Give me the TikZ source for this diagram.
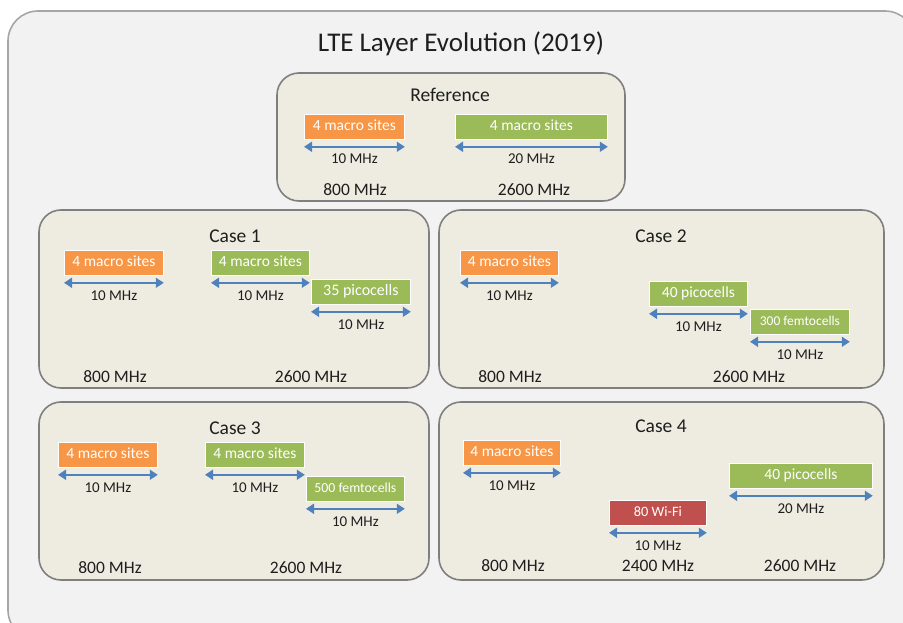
\documentclass[tikz,border=0pt]{standalone}
\usepackage{fontspec}
\setmainfont{Carlito}
\usetikzlibrary{arrows.meta}
\definecolor{outerfill}{HTML}{F2F2F2}
\definecolor{outerline}{HTML}{A6A6A6}
\definecolor{casefill}{HTML}{EEECE1}
\definecolor{caseline}{HTML}{7F7F7F}
\definecolor{macroorange}{HTML}{F79646}
\definecolor{cellgreen}{HTML}{9BBB59}
\definecolor{wifired}{HTML}{C0504D}
\definecolor{bandblue}{HTML}{4F81BD}
\definecolor{inktext}{HTML}{1E1E1E}
\begin{document}
\begin{tikzpicture}[x=1pt,y=-1pt,
  casebox/.style={draw=caseline,line width=1.6pt,fill=casefill,rounded corners=22pt},
  cell/.style={draw=white,line width=0.8pt,text=white,anchor=north west,inner sep=0pt,
    minimum height=25pt,text height=0.75em,text depth=0.1em,font=\fontsize{15.5}{18}\selectfont},
  band/.style={{Triangle[length=8pt,width=10pt]}-{Triangle[length=8pt,width=10pt]},draw=bandblue,line width=1.6pt},
  freq/.style={text=inktext,inner sep=0pt,font=\fontsize{15}{18}\selectfont},
  layer/.style={text=inktext,inner sep=0pt,font=\fontsize{17.5}{20}\selectfont},
  casename/.style={text=inktext,inner sep=0pt,anchor=base,font=\fontsize{19.5}{22}\selectfont}]
\useasboundingbox (0,0) rectangle (903,623);
\clip (0,0) rectangle (903,623);
\draw[draw=outerline,line width=1.6pt,fill=outerfill,rounded corners=30pt] (8,11) rectangle (915,640);
\node[text=inktext,inner sep=0pt,anchor=base,font=\fontsize{27}{30}\selectfont] (title) at (461,52) {LTE Layer Evolution (2019)};
\draw[casebox] (277,73) rectangle (625,201);
\draw[casebox] (39,210) rectangle (429,388);
\draw[casebox] (439,210) rectangle (884,388);
\draw[casebox] (39,402) rectangle (429,580);
\draw[casebox] (439,402) rectangle (884,580);
\node[casename] (refname) at (450,102) {Reference};
\node[casename] (c1name) at (235,242) {Case 1};
\node[casename] (c2name) at (661,242) {Case 2};
\node[casename] (c3name) at (235,434) {Case 3};
\node[casename] (c4name) at (661,432) {Case 4};
\node[cell,fill=macroorange,minimum width=100pt] (refmac) at (304,114) {4 macro sites};
\node[cell,fill=cellgreen,minimum width=152pt] (refmacb) at (455,114) {4 macro sites};
\node[cell,fill=macroorange,minimum width=99pt] (c1mac) at (64,250) {4 macro sites};
\node[cell,fill=cellgreen,minimum width=98pt] (c1macb) at (211,250) {4 macro sites};
\node[cell,fill=cellgreen,minimum width=99pt,font=\fontsize{16}{18}\selectfont] (c1pico) at (311,279) {35 picocells};
\node[cell,fill=macroorange,minimum width=98pt] (c2mac) at (460,250) {4 macro sites};
\node[cell,fill=cellgreen,minimum width=98pt] (c2pico) at (649,281) {40 picocells};
\node[cell,fill=cellgreen,minimum width=99pt,font=\fontsize{13.5}{16}\selectfont] (c2femto) at (750,309) {300 femtocells};
\node[cell,fill=macroorange,minimum width=99pt] (c3mac) at (58,442) {4 macro sites};
\node[cell,fill=cellgreen,minimum width=99pt] (c3macb) at (205,442) {4 macro sites};
\node[cell,fill=cellgreen,minimum width=98pt,font=\fontsize{13.8}{16}\selectfont] (c3femto) at (306,476) {500 femtocells};
\node[cell,fill=macroorange,minimum width=97pt] (c4mac) at (463,440) {4 macro sites};
\node[cell,fill=wifired,minimum width=97pt,font=\fontsize{14.3}{16}\selectfont] (c4wifi) at (609,500) {80 Wi-Fi};
\node[cell,fill=cellgreen,minimum width=143pt] (c4pico) at (729,463) {40 picocells};
\draw[band] ([yshift=-7pt]refmac.south west) -- ([yshift=-7pt]refmac.south east);
\draw[band] ([yshift=-7pt]refmacb.south west) -- ([yshift=-7pt]refmacb.south east);
\draw[band] ([yshift=-7pt]c1mac.south west) -- ([yshift=-7pt]c1mac.south east);
\draw[band] ([yshift=-7pt]c1macb.south west) -- ([yshift=-7pt]c1macb.south east);
\draw[band] ([yshift=-7pt]c1pico.south west) -- ([yshift=-7pt]c1pico.south east);
\draw[band] ([yshift=-7pt]c2mac.south west) -- ([yshift=-7pt]c2mac.south east);
\draw[band] ([yshift=-7pt]c2pico.south west) -- ([yshift=-7pt]c2pico.south east);
\draw[band] ([yshift=-7pt]c2femto.south west) -- ([yshift=-7pt]c2femto.south east);
\draw[band] ([yshift=-7pt]c3mac.south west) -- ([yshift=-7pt]c3mac.south east);
\draw[band] ([yshift=-7pt]c3macb.south west) -- ([yshift=-7pt]c3macb.south east);
\draw[band] ([yshift=-7pt]c3femto.south west) -- ([yshift=-7pt]c3femto.south east);
\draw[band] ([yshift=-7pt]c4mac.south west) -- ([yshift=-7pt]c4mac.south east);
\draw[band] ([yshift=-7pt]c4wifi.south west) -- ([yshift=-7pt]c4wifi.south east);
\draw[band] ([yshift=-7pt]c4pico.south west) -- ([yshift=-7pt]c4pico.south east);
\node[freq] (refmacw) at ([yshift=-19pt]refmac.south) {10 MHz};
\node[freq] (refmacbw) at ([yshift=-19pt]refmacb.south) {20 MHz};
\node[freq] (c1macw) at ([yshift=-19.5pt]c1mac.south) {10 MHz};
\node[freq] (c1macbw) at ([yshift=-19.5pt]c1macb.south) {10 MHz};
\node[freq] (c1picow) at ([yshift=-19.5pt]c1pico.south) {10 MHz};
\node[freq] (c2macw) at ([yshift=-19.5pt]c2mac.south) {10 MHz};
\node[freq] (c2picow) at ([yshift=-19.5pt]c2pico.south) {10 MHz};
\node[freq] (c2femtow) at ([yshift=-19.5pt]c2femto.south) {10 MHz};
\node[freq] (c3macw) at ([yshift=-19.5pt]c3mac.south) {10 MHz};
\node[freq] (c3macbw) at ([yshift=-19.5pt]c3macb.south) {10 MHz};
\node[freq] (c3femtow) at ([yshift=-19.5pt]c3femto.south) {10 MHz};
\node[freq] (c4macw) at ([yshift=-19.5pt]c4mac.south) {10 MHz};
\node[freq] (c4wifiw) at ([yshift=-19.5pt]c4wifi.south) {10 MHz};
\node[freq] (c4picow) at ([yshift=-19.5pt]c4pico.south) {20 MHz};
\node[layer] (reflow) at (355,190) {800 MHz};
\node[layer] (refhigh) at (534,190) {2600 MHz};
\node[layer] (c1low) at (115,377) {800 MHz};
\node[layer] (c1high) at (311,377) {2600 MHz};
\node[layer] (c2low) at (510,377) {800 MHz};
\node[layer] (c2high) at (749,377) {2600 MHz};
\node[layer] (c3low) at (110,568) {800 MHz};
\node[layer] (c3high) at (306,568) {2600 MHz};
\node[layer] (c4low) at (513,566) {800 MHz};
\node[layer] (c4mid) at (658,566) {2400 MHz};
\node[layer] (c4high) at (800,566) {2600 MHz};
\end{tikzpicture}
\end{document}
